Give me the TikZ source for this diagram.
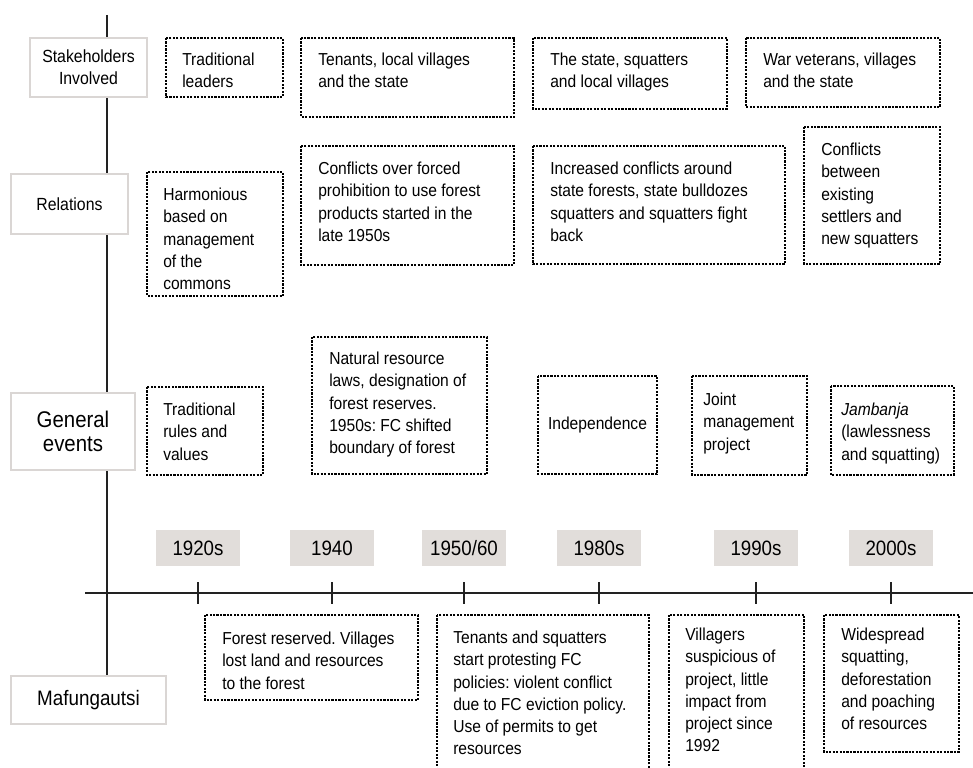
\documentclass[tikz,border=0pt]{standalone}
\usepackage{fontspec}
\setmainfont{Liberation Sans}[FakeStretch=0.9]
\usetikzlibrary{positioning}
\definecolor{framegray}{HTML}{DAD6D4}
\definecolor{yeargray}{HTML}{E1DDDA}
\definecolor{axisgray}{HTML}{222222}
\frenchspacing

\tikzset{
  rowlabel/.style={draw=framegray, fill=white, line width=0.9pt, align=center, inner sep=0pt, font=\fontsize{13.2}{16.5}\selectfont},
  yearbox/.style={fill=yeargray, minimum width=63pt, minimum height=27pt, inner sep=0pt, font=\fontsize{15.6}{17}\selectfont},
  evbox/.style={draw, line width=0.9pt, dash pattern=on 1.6pt off 1pt},
  evtext/.style={anchor=north west, inner sep=0pt, align=left, font=\fontsize{13}{16.6}\selectfont},
  yeartick/.style={draw=axisgray, line width=1pt},
}

\begin{document}
\begin{tikzpicture}[x=0.75pt, y=-0.75pt]
\useasboundingbox (0,0) rectangle (973,767);
\clip (0,0) rectangle (973,767);

% axes
\coordinate (vtop) at (107,15);
\coordinate (hleft) at (85,593);
\coordinate (hright) at (973,593);
\draw[axisgray, line width=1pt] (hleft) -- (hright);
\draw[axisgray, line width=1pt] (vtop) -- (107,676);

% row labels
\node[rowlabel, minimum width=87.75pt, minimum height=44.25pt] (stake) at (88.5,67.5) {Stakeholders\\Involved};
\node[rowlabel, minimum width=87.75pt, minimum height=45pt] (rel) at (69.5,204) {Relations};
\node[rowlabel, minimum width=93pt, minimum height=57.75pt, font=\fontsize{17}{17.5}\selectfont] (gen) at (73,431.5) {General\\events};
\node[rowlabel, minimum width=116.25pt, minimum height=36pt, font=\fontsize{15.7}{17}\selectfont] (maf) at (88.5,700) {Mafungautsi};

% years and ticks
\foreach \xx/\yr [count=\i] in {198/1920s, 332/1940, 464/1950\slash 60, 599/1980s, 756/1990s, 891/2000s}{
  \node[yearbox] (year\i) at (\xx,548) {\yr};
  \draw[yeartick] (\xx,582) -- (\xx,604);
}

% stakeholders involved
\draw[evbox] (166,38) rectangle (283,97);
\node[evtext] (s1) at (182,53) {Traditional\\leaders};
\draw[evbox] (301,38) rectangle (514,117);
\node[evtext] (s2) at (318,53) {Tenants, local villages\\and the state};
\draw[evbox] (533,38) rectangle (727,109);
\node[evtext] (s3) at (550,53) {The state, squatters\\and local villages};
\draw[evbox] (746,38) rectangle (940,107);
\node[evtext] (s4) at (763,53) {War veterans, villages\\and the state};

% relations
\draw[evbox] (147,172) rectangle (283,296);
\node[evtext] (r1) at (163,188) {Harmonious\\based on\\management\\of the\\commons};
\draw[evbox] (301,146) rectangle (514,265);
\node[evtext] (r2) at (318,162) {Conflicts over forced\\prohibition to use forest\\products started in the\\late 1950s};
\draw[evbox] (533,146) rectangle (785,264);
\node[evtext] (r3) at (550,162) {Increased conflicts around\\state forests, state bulldozes\\squatters and squatters fight\\back};
\draw[evbox] (804,127) rectangle (940,264);
\node[evtext] (r4) at (821,143) {Conflicts\\between\\existing\\settlers and\\new squatters};

% general events
\draw[evbox] (147,387) rectangle (263,475);
\node[evtext] (g1) at (163,403) {Traditional\\rules and\\values};
\draw[evbox] (312,337) rectangle (487,474);
\node[evtext] (g2) at (329,352) {Natural resource\\laws, designation of\\forest reserves.\\1950s: FC shifted\\boundary of forest};
\draw[evbox] (538,376) rectangle (657,474);
\node[evtext, anchor=center] (g3) at (597.5,425) {Independence};
\draw[evbox] (692,376) rectangle (807,475);
\node[evtext] (g4) at (703,393) {Joint\\management\\project};
\draw[evbox] (831,386) rectangle (954,475);
\node[evtext] (g5) at (841,403) {\textit{Jambanja}\\(lawlessness\\and squatting)};

% Mafungautsi
\draw[evbox] (205,615) rectangle (418,700);
\node[evtext] (m1) at (222,632) {Forest reserved. Villages\\lost land and resources\\to the forest};
\draw[evbox] (437,615) rectangle (649,790);
\node[evtext] (m2) at (453,631) {Tenants and squatters\\start protesting FC\\policies: violent conflict\\due to FC eviction policy.\\Use of permits to get\\resources};
\draw[evbox] (669,615) rectangle (804,790);
\node[evtext] (m3) at (685,628) {Villagers\\suspicious of\\project, little\\impact from\\project since\\1992};
\draw[evbox] (824,615) rectangle (959,752);
\node[evtext] (m4) at (841,628) {Widespread\\squatting,\\deforestation\\and poaching\\of resources};
\end{tikzpicture}
\end{document}
